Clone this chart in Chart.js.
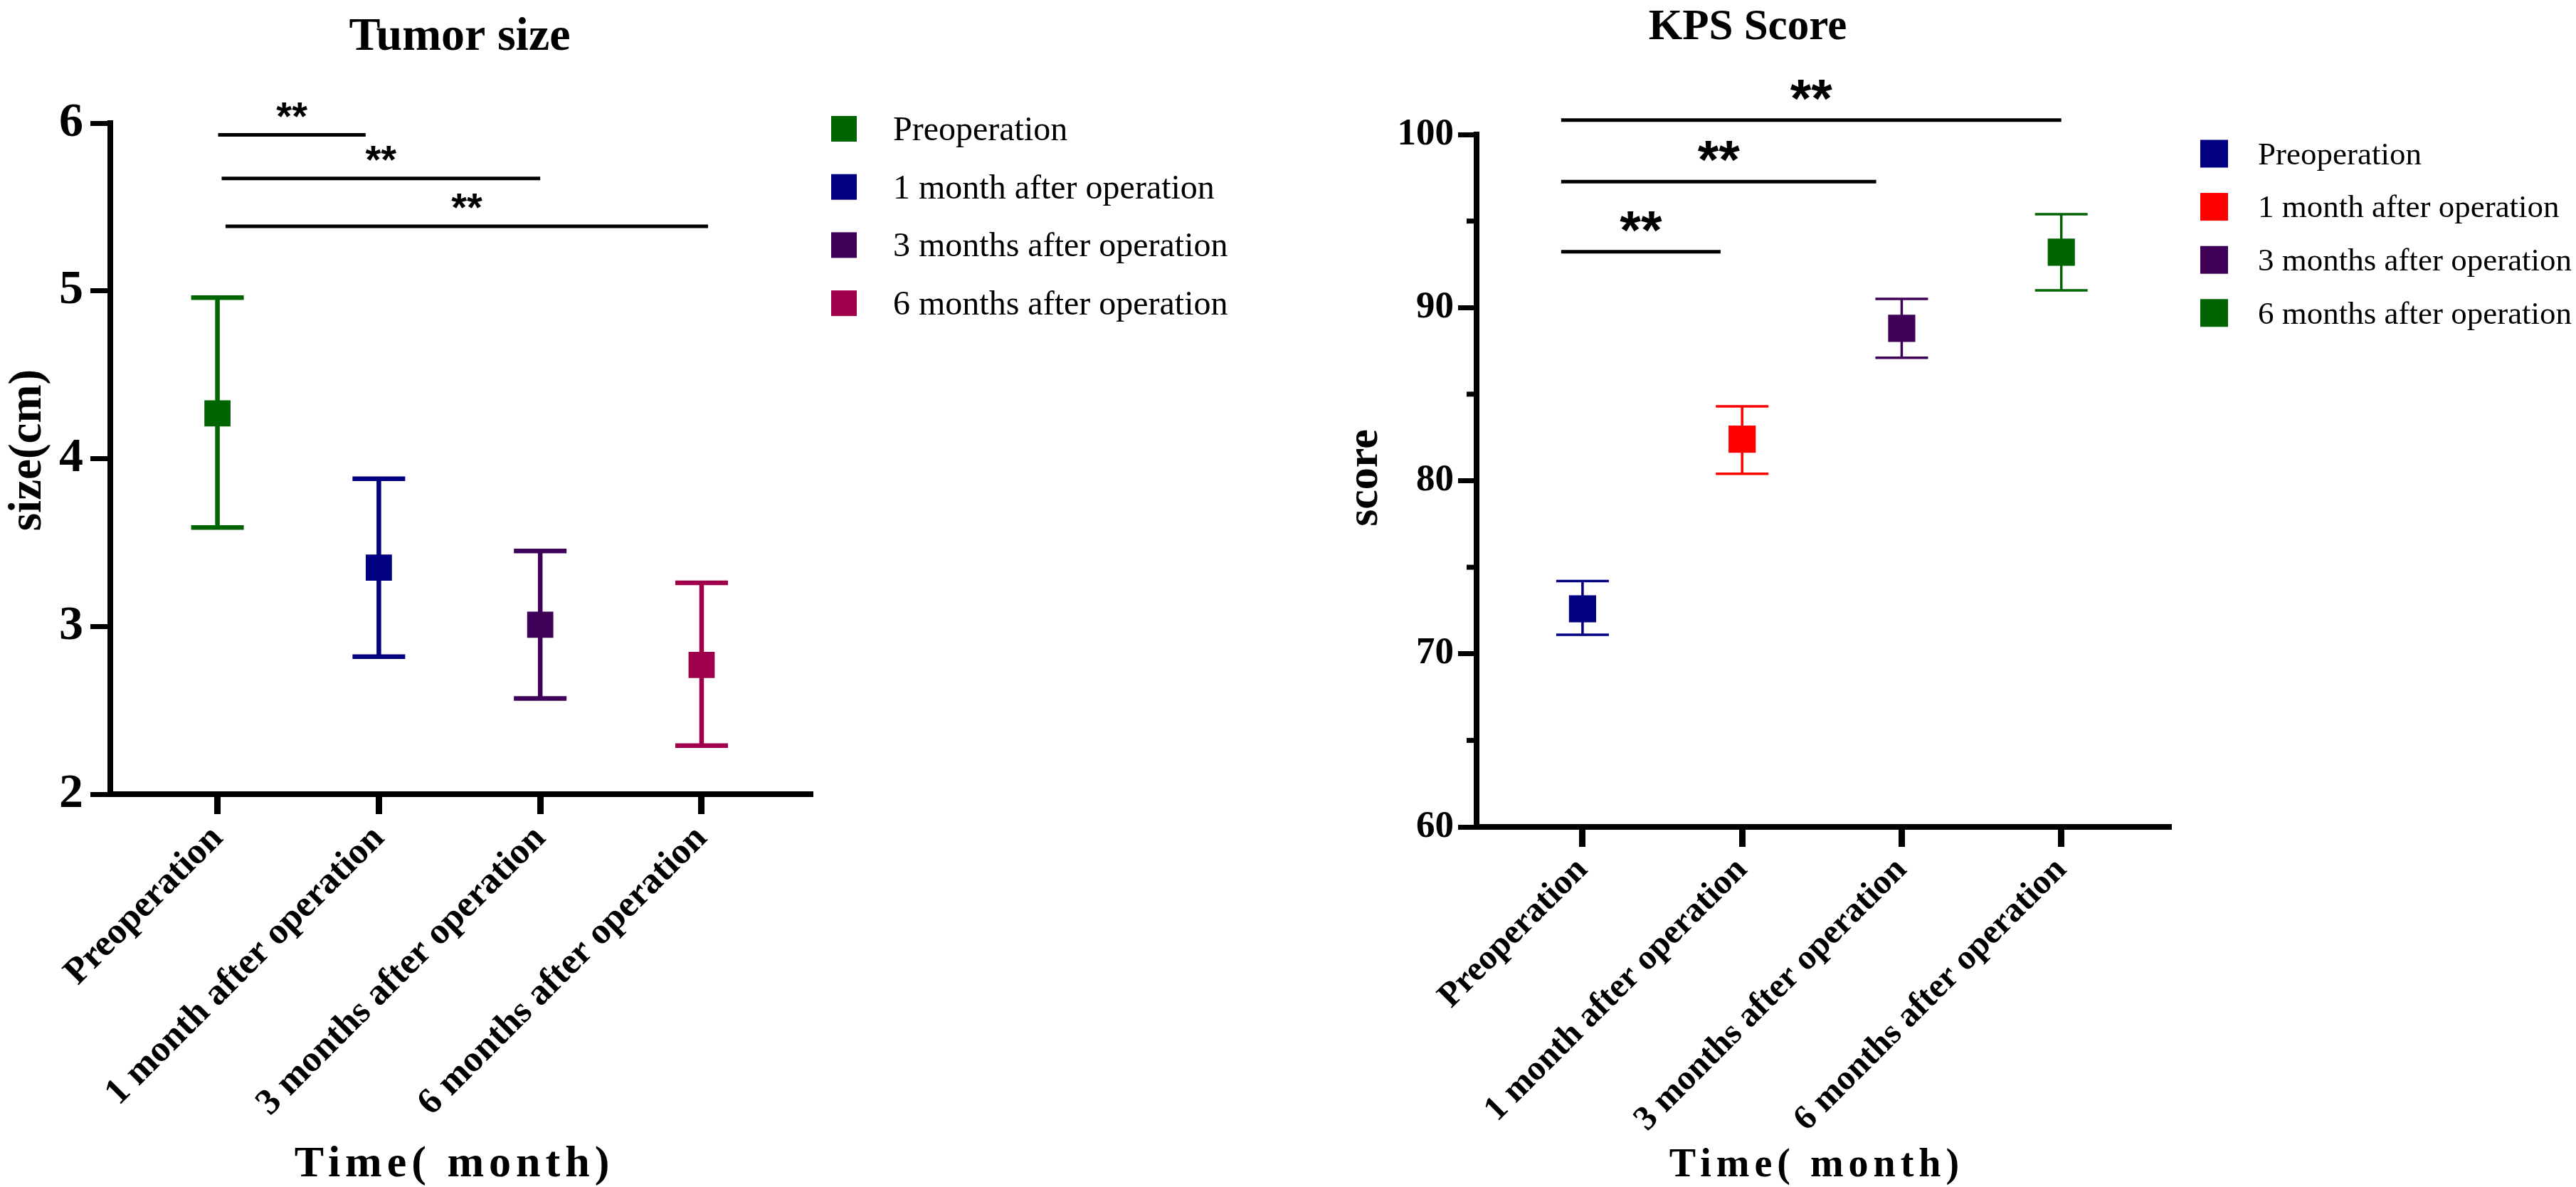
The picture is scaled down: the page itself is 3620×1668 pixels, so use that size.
<!DOCTYPE html>
<html>
<head>
<meta charset="utf-8">
<script src="https://cdn.jsdelivr.net/npm/chart.js@4.4.1/dist/chart.umd.min.js"></script>
<style>
  html, body { margin: 0; padding: 0; background: #fff; }
  #wrap { display: flex; width: 3620px; height: 1668px; }
  canvas { display: block; }
</style>
</head>
<body>
<div id="wrap">
  <canvas id="sizeChart" width="1810" height="1668"></canvas>
  <canvas id="kpsChart" width="1810" height="1668"></canvas>
</div>
<script>
/* ── DATA ───────────────────────────────────────────── */
const groups = ['Preoperation', '1 month after operation', '3 months after operation', '6 months after operation'];

// Tumor size (cm): mean and error-bar ends
const sizeMean  = [4.27, 3.35, 3.01, 2.77];
const sizeLower = [3.59, 2.82, 2.57, 2.29];
const sizeUpper = [4.96, 3.88, 3.45, 3.26];
const sizeTicks = [2, 3, 4, 5, 6];
const sizeColors = ['#006400', '#000080', '#3f0058', '#a0004b'];
const sizeSigFrom = [0.004, 0.026, 0.05];
const sizeSigTo   = [0.918, 2.0, 3.04];
const sizeSigY    = [5.93, 5.67, 5.385];
const sizeSigText = ['**', '**', '**'];

// KPS score
const kpsMean  = [72.6, 82.4, 88.8, 93.2];
const kpsLower = [71.1, 80.4, 87.1, 91.0];
const kpsUpper = [74.2, 84.3, 90.5, 95.4];
const kpsTicks = [60, 70, 80, 90, 100];
const kpsMinorTicks = [65, 75, 85, 95];
const kpsColors = ['#000080', '#ff0000', '#3f0058', '#006400'];
const kpsSigFrom = [-0.134, -0.134, -0.134];
const kpsSigTo   = [0.865, 1.84, 3.0];
const kpsSigY    = [93.23, 97.28, 100.83];
const kpsSigText = ['**', '**', '**'];

/* ── HELPERS ────────────────────────────────────────── */
const SERIF = '"Liberation Serif", "Times New Roman", serif';
const SANS  = '"Liberation Sans", Arial, sans-serif';

function text(ctx, str, x, y, font, align, spacing, rot){
  ctx.save();
  ctx.font = font;
  ctx.fillStyle = '#000';
  ctx.textAlign = align || 'center';
  ctx.textBaseline = 'alphabetic';
  if('letterSpacing' in ctx) ctx.letterSpacing = (spacing || 0) + 'px';
  ctx.translate(x, y);
  if(rot) ctx.rotate(rot);
  ctx.fillText(str, 0, 0);
  ctx.restore();
}

function decorPlugin(p){
  return {
    id: 'decor',
    beforeDatasetsDraw(chart){
      const ctx = chart.ctx, xs = chart.scales.x, ys = chart.scales.y;
      ctx.save();
      ctx.lineWidth = p.errWidth;
      p.lower.forEach((lo, i) => {
        const x = xs.getPixelForValue(i);
        const yl = ys.getPixelForValue(lo), yh = ys.getPixelForValue(p.upper[i]);
        ctx.strokeStyle = p.colors[i];
        ctx.beginPath();
        ctx.moveTo(x, yl); ctx.lineTo(x, yh);
        ctx.moveTo(x - p.capHalf, yl); ctx.lineTo(x + p.capHalf, yl);
        ctx.moveTo(x - p.capHalf, yh); ctx.lineTo(x + p.capHalf, yh);
        ctx.stroke();
      });
      ctx.restore();
    },
    afterDraw(chart){
      const ctx = chart.ctx, xs = chart.scales.x, ys = chart.scales.y, a = chart.chartArea;

      // minor ticks
      if(p.minor){
        ctx.save();
        ctx.strokeStyle = '#000'; ctx.lineWidth = 7;
        p.minor.forEach(v => {
          const y = ys.getPixelForValue(v);
          ctx.beginPath(); ctx.moveTo(a.left - p.minorLen, y); ctx.lineTo(a.left, y); ctx.stroke();
        });
        ctx.restore();
      }

      // significance bars
      ctx.save();
      ctx.strokeStyle = '#000'; ctx.lineWidth = 5;
      p.sigY.forEach((v, i) => {
        const x1 = xs.getPixelForValue(p.sigFrom[i]), x2 = xs.getPixelForValue(p.sigTo[i]);
        const y = ys.getPixelForValue(v);
        ctx.beginPath(); ctx.moveTo(x1, y); ctx.lineTo(x2, y); ctx.stroke();
        ctx.font = 'bold ' + p.starSize + 'px ' + SANS;
        const m = ctx.measureText(p.sigText[i]);
        text(ctx, p.sigText[i], (x1 + x2) / 2, y - p.starGap - m.actualBoundingBoxDescent,
             'bold ' + p.starSize + 'px ' + SANS, 'center');
      });
      ctx.restore();

      // titles
      text(ctx, p.title, p.titleX, p.titleY, 'bold ' + p.titleSize + 'px ' + SERIF, 'center');
      text(ctx, 'Time( month)', (a.left + a.right) / 2 - 10, 1653, 'bold ' + p.xTitleSize + 'px ' + SERIF, 'center', 7);
      text(ctx, p.yTitle, p.yTitleX, (a.top + a.bottom) / 2 + p.yTitleShift, 'bold ' + p.yTitleSize + 'px ' + SERIF, 'center', 0, -Math.PI / 2);

      // legend
      groups.forEach((g, i) => {
        const cy = a.top + p.legTop + i * p.legStep;
        ctx.fillStyle = p.colors[i];
        ctx.fillRect(a.right + p.legBoxX, cy - p.legBox / 2, p.legBox, p.legBox);
        text(ctx, g, a.right + p.legTextX, cy + p.legSize * 0.33, p.legSize + 'px ' + SERIF, 'left');
      });
    }
  };
}

function makeChart(id, p){
  const datasets = groups.map((g, i) => ({
    label: g,
    data: [{ x: i, y: p.mean[i] }],
    backgroundColor: p.colors[i],
    borderColor: p.colors[i],
    borderWidth: 0,
    pointStyle: 'rect',
    pointRadius: p.markR,
    pointHoverRadius: p.markR,
    showLine: false,
  }));

  return new Chart(document.getElementById(id), {
    type: 'scatter',
    data: { datasets },
    options: {
      responsive: false, devicePixelRatio: 1, animation: false,
      events: [],
      layout: { padding: { left: 0, top: p.area.top, right: 1810 - p.area.right, bottom: 0 } },
      plugins: { legend: { display: false }, title: { display: false }, tooltip: { enabled: false } },
      scales: {
        x: {
          type: 'linear', min: -0.664, max: 3.688,
          afterBuildTicks: s => { s.ticks = groups.map((_, i) => ({ value: i })); },
          afterFit: s => { s.height = 1668 - p.area.bottom; s.paddingLeft = 0; s.paddingRight = 0; },
          ticks: {
            callback: v => groups[v], autoSkip: false,
            maxRotation: 45, minRotation: 45, padding: p.xPad,
            color: '#000', font: { family: SERIF, size: p.xTickSize, weight: 'bold' },
          },
          grid: { display: true, drawOnChartArea: false, drawTicks: true, tickLength: 28, tickWidth: 9, tickColor: '#000' },
          border: { display: true, width: 8, color: '#000' },
        },
        y: {
          min: p.yMin, max: p.yMax,
          afterBuildTicks: s => { s.ticks = p.ticks.map(v => ({ value: v })); },
          afterFit: s => { s.width = p.area.left; s.paddingTop = 0; s.paddingBottom = 0; },
          ticks: {
            padding: p.yPad, color: '#000',
            font: { family: SERIF, size: p.yTickSize, weight: 'bold' },
          },
          grid: { display: true, drawOnChartArea: false, drawTicks: true, tickLength: p.tickLen, tickWidth: 7, tickColor: '#000' },
          border: { display: true, width: 8, color: '#000' },
        }
      }
    },
    plugins: [decorPlugin(p)]
  });
}

/* ── CHARTS ─────────────────────────────────────────── */
makeChart('sizeChart', {
  mean: sizeMean, lower: sizeLower, upper: sizeUpper, colors: sizeColors, ticks: sizeTicks,
  yMin: 2, yMax: 6,
  sigFrom: sizeSigFrom, sigTo: sizeSigTo, sigY: sizeSigY, sigText: sizeSigText,
  area: { left: 155, top: 173, right: 1142, bottom: 1116 },
  markR: 26, errWidth: 6.5, capHalf: 37,
  starSize: 56, starGap: 25,
  tickLen: 28, yPad: 10, yTickSize: 68, xTickSize: 52, xPad: 4,
  title: 'Tumor size', titleX: 646, titleY: 70, titleSize: 66,
  xTitleSize: 62,
  yTitle: 'size(cm)', yTitleX: 57, yTitleSize: 65, yTitleShift: -12,
  legBoxX: 26, legBox: 36, legTop: 8, legStep: 81.7, legTextX: 113, legSize: 48,
});

makeChart('kpsChart', {
  mean: kpsMean, lower: kpsLower, upper: kpsUpper, colors: kpsColors, ticks: kpsTicks,
  yMin: 60, yMax: 100, minor: kpsMinorTicks, minorLen: 14,
  sigFrom: kpsSigFrom, sigTo: kpsSigTo, sigY: kpsSigY, sigText: kpsSigText,
  area: { left: 265, top: 189, right: 1241, bottom: 1162 },
  markR: 27, errWidth: 3.5, capHalf: 37,
  starSize: 76, starGap: 28,
  tickLen: 26, yPad: 6, yTickSize: 53, xTickSize: 49, xPad: 4,
  title: 'KPS Score', titleX: 646, titleY: 55, titleSize: 61,
  xTitleSize: 56,
  yTitle: 'score', yTitleX: 125, yTitleSize: 62, yTitleShift: -4,
  legBoxX: 41, legBox: 39, legTop: 27, legStep: 74.6, legTextX: 122, legSize: 45,
});
</script>
</body>
</html>
